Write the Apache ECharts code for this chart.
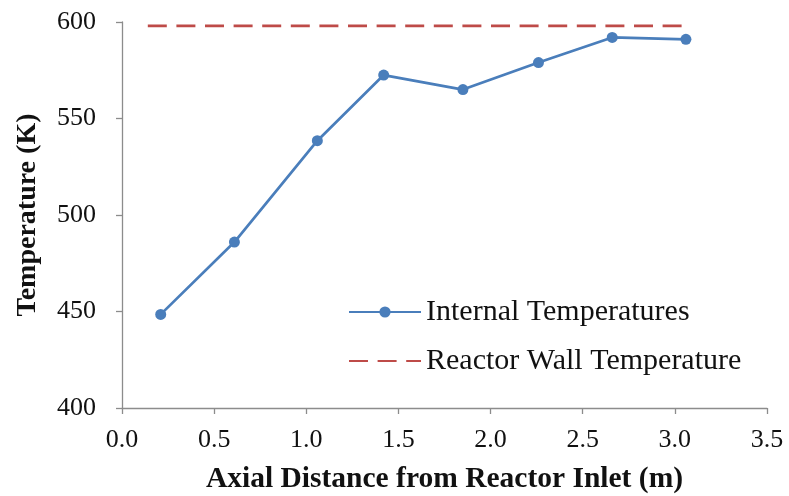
<!DOCTYPE html>
<html><head><meta charset="utf-8">
<script src="https://cdn.jsdelivr.net/npm/echarts@6/dist/echarts.min.js"></script>
<style>html,body{margin:0;padding:0;background:#fff}#c{width:789px;height:496px}</style>
</head><body><div id="c"></div>
<script>
const distance = [0.21, 0.61, 1.06, 1.42, 1.85, 2.26, 2.66, 3.06];
const internalTemp = [448.5, 486, 538.5, 572.5, 565, 579, 592, 591];
const wallDistance = [0.14, 3.07];
const wallTemp = [598, 598];
const seriesNames = ['Internal Temperatures', 'Reactor Wall Temperature'];

const chart = echarts.init(document.getElementById('c'));
const font = 'Liberation Serif, Times New Roman, serif';
chart.setOption({
  animation: false,
  backgroundColor: '#fff',
  grid: {left: 122, right: 22, top: 22, bottom: 88, containLabel: false, outerBoundsMode: 'none'},
  legend: {
    orient: 'vertical', left: 343, top: 292, itemWidth: 72, itemHeight: 14, itemGap: 19,
    textStyle: {fontFamily: font, fontSize: 30, color: '#111'},
    data: [
      {name: seriesNames[0]},
      {name: seriesNames[1], itemStyle: {opacity: 0}}
    ]
  },
  xAxis: {
    type: 'value', min: 0, max: 3.5, interval: 0.5,
    name: 'Axial Distance from Reactor Inlet (m)', nameLocation: 'middle', nameGap: 56,
    nameTextStyle: {fontFamily: font, fontSize: 29.5, fontWeight: 'bold', color: '#111'},
    axisLine: {lineStyle: {color: '#8c8c8c', width: 1.3}},
    axisTick: {show: true, inside: false, length: 6, lineStyle: {color: '#8c8c8c', width: 1.3}},
    axisLabel: {fontFamily: font, fontSize: 26, color: '#111', margin: 19, formatter: v => v.toFixed(1)},
    splitLine: {show: false}
  },
  yAxis: {
    type: 'value', min: 400, max: 600, interval: 50,
    name: 'Temperature (K)', nameLocation: 'middle', nameGap: 80, nameRotate: 90,
    nameTextStyle: {fontFamily: font, fontSize: 28, fontWeight: 'bold', color: '#111'},
    axisLine: {show: true, lineStyle: {color: '#8c8c8c', width: 1.3}},
    axisTick: {show: true, length: 6, lineStyle: {color: '#8c8c8c', width: 1.3}},
    axisLabel: {fontFamily: font, fontSize: 26, color: '#111', margin: 26},
    splitLine: {show: false}
  },
  series: [
    {
      name: seriesNames[0], type: 'line',
      data: distance.map((d, i) => [d, internalTemp[i]]),
      symbol: 'circle', symbolSize: 11,
      lineStyle: {color: '#4a7ebb', width: 2.7},
      itemStyle: {color: '#4a7ebb'}
    },
    {
      name: seriesNames[1], type: 'line',
      data: wallDistance.map((d, i) => [d, wallTemp[i]]),
      symbol: 'none',
      lineStyle: {color: '#be4b48', width: 2.7, type: [19, 9.6]},
      itemStyle: {color: '#be4b48'}
    }
  ]
});
</script></body></html>
